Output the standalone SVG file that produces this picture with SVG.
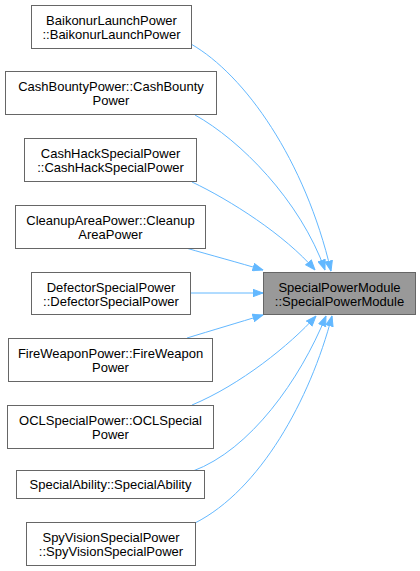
<svg xmlns="http://www.w3.org/2000/svg" width="420" height="571" viewBox="0 0 420 571">
<style>
.n rect{fill:#ffffff;stroke:#666666;stroke-width:1}
.n.t rect{fill:#999999}
.n text{font-family:"Liberation Sans",Arial,sans-serif;font-size:13px;fill:#000000;text-anchor:middle}
.e path{fill:none;stroke:#63b8ff;stroke-width:1;marker-end:url(#ah)}
</style>
<defs>
<marker id="ah" markerUnits="userSpaceOnUse" markerWidth="11" markerHeight="9" refX="10.5" refY="4.5" orient="auto">
<path d="M0.5,0.8 L10.5,4.5 L0.5,8.2 z" fill="#63b8ff" stroke="#63b8ff" stroke-width="1"/>
</marker>
</defs>
<rect width="420" height="571" fill="#ffffff"/>
<g id="edges" class="e">
<path d="M191,44 C245,75 305,160 331,271"/>
<path d="M195,115 C240,140 300,200 325,270"/>
<path d="M192,182 C230,200 285,235 315,270"/>
<path d="M186,248 C210,255 240,263 263,270"/>
<path d="M190,293 L263,293"/>
<path d="M187,338 C210,331 240,322 263,315"/>
<path d="M192,405 C240,385 290,345 316,316"/>
<path d="M193,471 C250,450 300,380 326,316"/>
<path d="M195,523 C260,490 310,400 332,316"/>
</g>
<g id="node1" class="n"><rect x="31.5" y="5.5" width="160" height="43"/><text x="111.5" y="25">BaikonurLaunchPower</text><text x="111.5" y="39">::BaikonurLaunchPower</text></g>
<g id="node2" class="n"><rect x="5.5" y="71.5" width="211" height="43"/><text x="111" y="91">CashBountyPower::CashBounty</text><text x="111" y="105">Power</text></g>
<g id="node3" class="n"><rect x="24.5" y="138.5" width="172" height="43"/><text x="110.5" y="158">CashHackSpecialPower</text><text x="110.5" y="172">::CashHackSpecialPower</text></g>
<g id="node4" class="n"><rect x="15.5" y="205.5" width="190" height="43"/><text x="110.5" y="225">CleanupAreaPower::Cleanup</text><text x="110.5" y="239">AreaPower</text></g>
<g id="node5" class="n"><rect x="31.5" y="272.5" width="159" height="42"/><text x="111" y="292">DefectorSpecialPower</text><text x="111" y="306">::DefectorSpecialPower</text></g>
<g id="node6" class="n"><rect x="8.5" y="338.5" width="204" height="43"/><text x="110.5" y="358">FireWeaponPower::FireWeapon</text><text x="110.5" y="372">Power</text></g>
<g id="node7" class="n"><rect x="7.5" y="405.5" width="206" height="43"/><text x="110.5" y="425">OCLSpecialPower::OCLSpecial</text><text x="110.5" y="439">Power</text></g>
<g id="node8" class="n"><rect x="16.5" y="470.5" width="188" height="28"/><text x="110.5" y="489">SpecialAbility::SpecialAbility</text></g>
<g id="node9" class="n"><rect x="26.5" y="522.5" width="169" height="43"/><text x="111" y="542">SpyVisionSpecialPower</text><text x="111" y="556">::SpyVisionSpecialPower</text></g>
<g id="target" class="n t"><rect x="263.5" y="272.5" width="152" height="42"/><text x="339.5" y="292">SpecialPowerModule</text><text x="339.5" y="306">::SpecialPowerModule</text></g>
</svg>
